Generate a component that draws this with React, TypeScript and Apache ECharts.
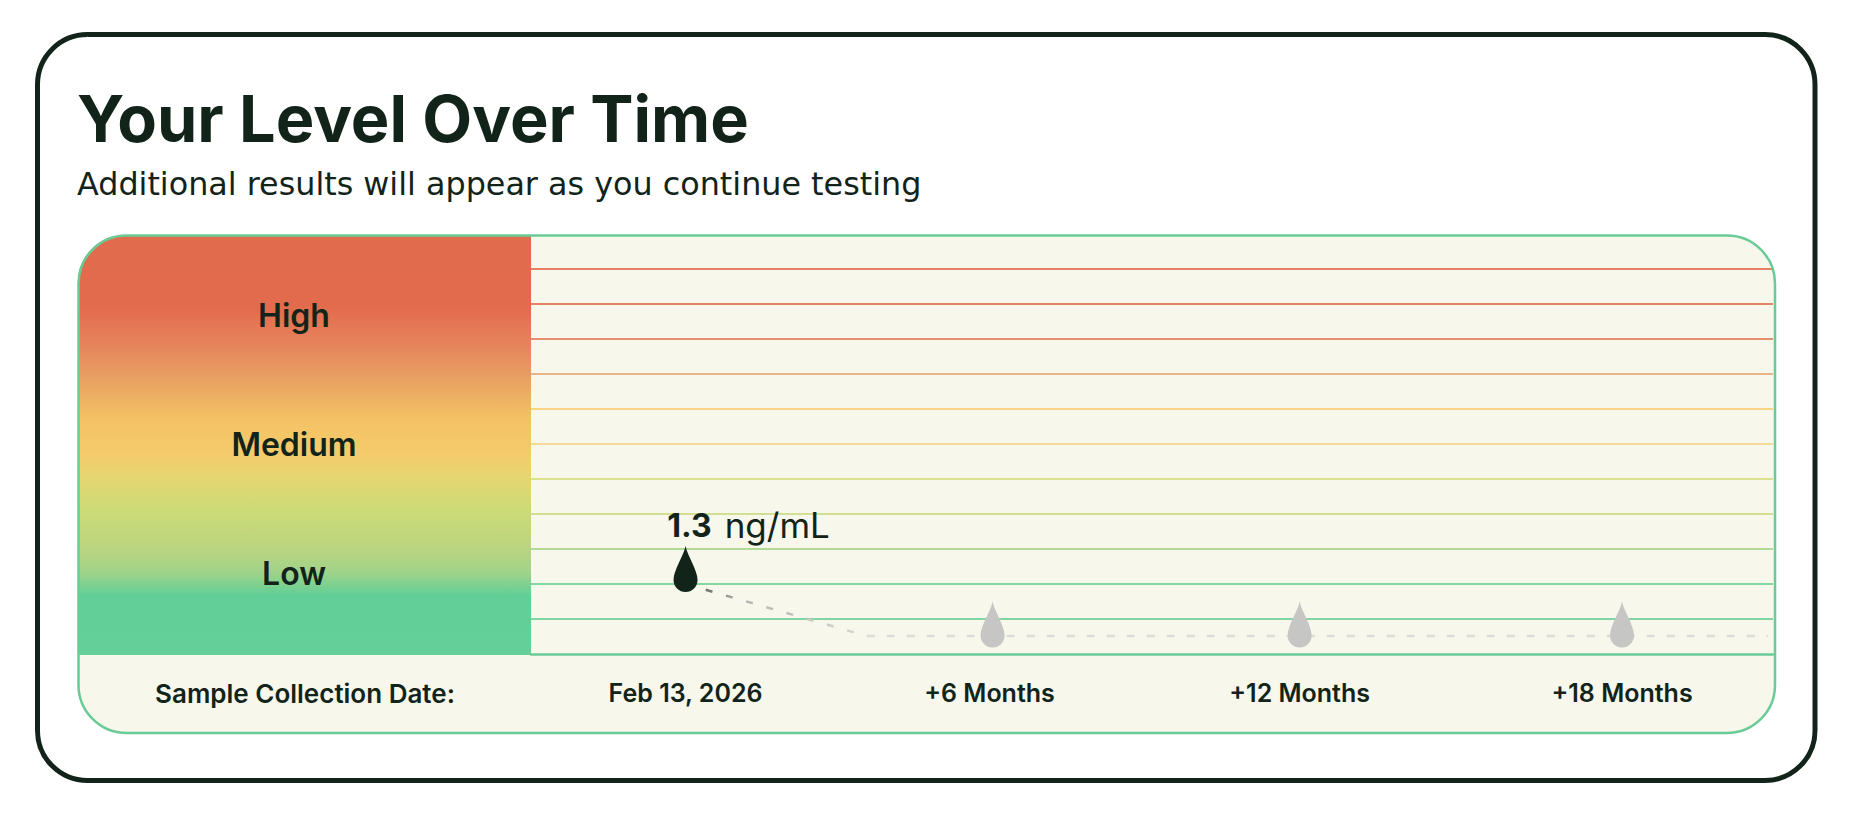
import React, { useEffect, useRef } from "react";
import * as echarts from "echarts";

const titleText = "Your Level Over Time";
const subtitleText = "Additional results will appear as you continue testing";
const rowHeading = "Sample Collection Date:";

const levelLabels = ["Low", "Medium", "High"];
const levelPositions = [1.5, 3.9, 6.28];

const dateLabels = ["Feb 13, 2026", "+6 Months", "+12 Months", "+18 Months"];
const dateMonths = [0, 5.94, 12, 18.3];

const measuredMonth = [0];
const measuredValue = [1.3];
const unit = "ng/mL";
const projectedMonths = [6, 12, 18.3];
const baselineValue = 0.334;
const slopeEndMonth = 3.54;
const lineEndMonth = 21.15;

const yMax = 7.8;
const yStep = 0.65;
const xMin = -3.02;
const xMax = 21.25;

const lineColors = [
  "#82D5A2", "#86D6A2", "#B0DA96", "#D0DF90", "#DAE28E", "#F4DA98",
  "#F7D486", "#E9B48A", "#E58F70", "#E3846A", "#E38165", "#E38165",
];

const DARK = "#12241A";
const GREEN = "#6ACB97";
const CREAM = "#F7F7EC";
const FONT = "Inter";
const DROP = "path://M12 0C14 10 24 24 24 34A12 12 0 0 1 0 34C0 24 10 10 12 0Z";

export default function App() {
  const ref = useRef<HTMLDivElement>(null);
  useEffect(() => {
    const chart = echarts.init(ref.current!, undefined, { renderer: "svg" });
    chart.setOption({
      animation: false,
      backgroundColor: "#ffffff",
      title: {
        text: titleText,
        subtext: subtitleText,
        left: 77,
        top: 86,
        padding: 0,
        itemGap: 14,
        textStyle: { fontFamily: FONT, fontSize: 64.8, fontWeight: 700, color: DARK, lineHeight: 64 },
        subtextStyle: { fontFamily: "DejaVu Sans", fontSize: 31.8, fontWeight: 400, color: DARK, lineHeight: 36 },
      },
      grid: { left: 531, right: 77, top: 234, bottom: 162, containLabel: false },
      xAxis: {
        type: "value",
        min: xMin,
        max: xMax,
        splitLine: { show: false },
        axisTick: { show: false },
        axisLine: { show: true, onZero: false, lineStyle: { color: GREEN, width: 2.5 } },
        axisLabel: {
          customValues: dateMonths,
          formatter: (v: number) => dateLabels[dateMonths.indexOf(v)] ?? "",
          fontFamily: FONT,
          fontSize: 25,
          fontWeight: 600,
          color: DARK,
          margin: 26,
          showMinLabel: true,
          showMaxLabel: true,
        },
      },
      yAxis: {
        type: "value",
        min: 0,
        max: yMax,
        interval: yStep,
        axisLine: { show: false },
        axisTick: { show: false },
        splitLine: {
          show: true,
          showMinLine: false,
          showMaxLine: false,
          lineStyle: { color: lineColors, width: 1.8 },
        },
        axisLabel: {
          customValues: levelPositions,
          formatter: (v: number) => levelLabels[levelPositions.indexOf(v)] ?? "",
          fontFamily: FONT,
          fontSize: 32,
          fontWeight: 600,
          color: DARK,
          align: "center",
          margin: 237,
        },
      },
      series: [
        {
          type: "line",
          data: [[measuredMonth[0], measuredValue[0]], [slopeEndMonth, baselineValue]],
          symbol: "none",
          z: 3,
          lineStyle: {
            width: 2.5,
            type: [7, 14],
            color: {
              type: "linear", x: 0, y: 0, x2: 1, y2: 0,
              colorStops: [
                { offset: 0.05, color: "#555f58" },
                { offset: 0.3, color: "#b4b4ae" },
                { offset: 1, color: "#d8d8d2" },
              ],
            },
          },
        },
        {
          type: "line",
          data: [[slopeEndMonth, baselineValue], [lineEndMonth, baselineValue]],
          symbol: "none",
          z: 3,
          lineStyle: { width: 2.5, type: [8, 12], color: "#DCDCD6" },
        },
        {
          type: "scatter",
          data: projectedMonths.map((m) => [m, baselineValue]),
          symbol: DROP,
          symbolSize: [24, 46],
          symbolOffset: [0, -11.5],
          itemStyle: { color: "#C6C6C4", opacity: 1 },
          z: 4,
        },
        {
          type: "scatter",
          data: [[measuredMonth[0], measuredValue[0]]],
          symbol: DROP,
          symbolSize: [24, 46],
          symbolOffset: [0, -15],
          itemStyle: { color: DARK, opacity: 1 },
          z: 5,
          label: {
            show: true,
            position: "top",
            distance: 3.5,
            offset: [63, 0],
            formatter: () => `{b|${measuredValue[0]}}{n|${unit}}`,
            rich: {
              b: { fontFamily: FONT, fontSize: 32, fontWeight: 700, color: DARK },
              n: { fontFamily: FONT, fontSize: 35, fontWeight: 400, color: DARK, padding: [0, 0, 0, 13] },
            },
          },
        },
      ],
      graphic: {
        elements: [
          {
            type: "rect",
            z: -3,
            shape: { x: 37.5, y: 34.5, width: 1777.5, height: 746, r: 50 },
            style: { fill: "#ffffff", stroke: DARK, lineWidth: 5 },
          },
          {
            type: "rect",
            z: -2,
            shape: { x: 78.5, y: 235.5, width: 1696.5, height: 497.5, r: 48 },
            style: { fill: CREAM, stroke: "none" },
          },
          {
            type: "rect",
            z: -1,
            shape: { x: 78, y: 235, width: 453, height: 420, r: [47, 0, 0, 0] },
            style: {
              fill: {
                type: "linear", x: 0, y: 0, x2: 0, y2: 1,
                colorStops: [
                  { offset: 0, color: "#E16B4D" },
                  { offset: 0.17, color: "#E26B4D" },
                  { offset: 0.26, color: "#E6835D" },
                  { offset: 0.34, color: "#E8A062" },
                  { offset: 0.44, color: "#F4C265" },
                  { offset: 0.52, color: "#F5CB6B" },
                  { offset: 0.58, color: "#E5D672" },
                  { offset: 0.65, color: "#CDDB76" },
                  { offset: 0.74, color: "#BCD57E" },
                  { offset: 0.8, color: "#A3D38A" },
                  { offset: 0.86, color: "#60CF96" },
                  { offset: 1, color: "#65CF9A" },
                ],
              },
              stroke: "none",
            },
          },
          {
            type: "rect",
            z: 10,
            shape: { x: 78.5, y: 235.5, width: 1696.5, height: 497.5, r: 48 },
            style: { fill: "none", stroke: GREEN, lineWidth: 2.5 },
          },
          {
            type: "text",
            z: 11,
            x: 305,
            y: 693,
            style: {
              text: rowHeading,
              fontFamily: FONT,
              fontSize: 26,
              fontWeight: 600,
              fill: DARK,
              align: "center",
              verticalAlign: "middle",
            },
          },
        ],
      },
    });
    return () => chart.dispose();
  }, []);
  return (
    <div
      ref={ref}
      style={{ position: "absolute", left: 0, top: 0, width: 1850, height: 816 }}
    />
  );
}
